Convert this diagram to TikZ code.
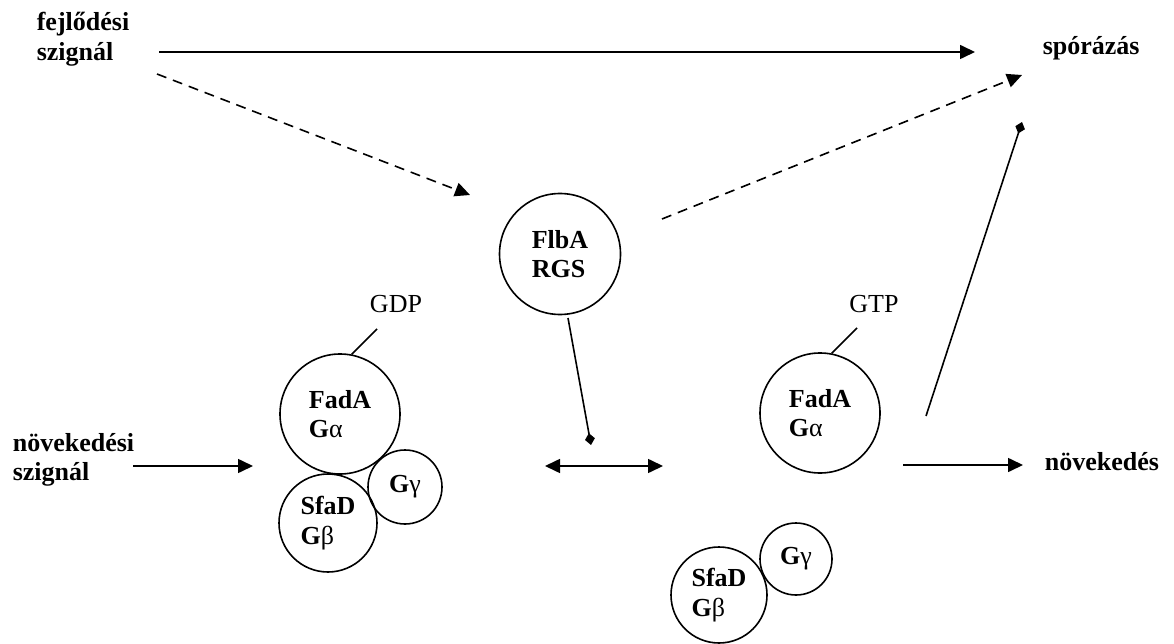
\documentclass[tikz,border=0pt]{standalone}
\usepackage{fontspec}
\setmainfont{Liberation Serif}
\usetikzlibrary{arrows.meta}
\newcommand{\gsubunit}[1]{\textbf{G}\textmd{#1}}

\begin{document}
\begin{tikzpicture}[
    x = 1pt,
    y = -1pt,
    line width = 1.6pt,
    >={Triangle[length=15pt,width=14pt]},
    font = \fontsize{26}{29.5}\selectfont,
    unit/.style = {
      draw,
      circle,
      inner sep = 0pt,
      font = \fontsize{26}{29.5}\selectfont\bfseries,
      align = left
    },
    signal/.style = {
      anchor = west,
      inner sep = 0pt,
      font = \fontsize{26}{29.5}\selectfont\bfseries,
      align = left
    },
    inhibit/.style = {-{Diamond[length=12pt,width=10pt]}},
    dash line/.style = {dash pattern = on 10pt off 7pt}
  ]
  \useasboundingbox (0,0) rectangle (1174,644);

  \node[signal] (fejl)  at (36,39)    {fejlődési\\szignál};
  \node[signal, anchor=base west] (spor) at (1042,55) {spórázás};
  \node[signal] (novsz) at (12,460)   {növekedési\\szignál};
  \node[signal, anchor=base west] (nov)  at (1044,470) {növekedés};

  \node[unit, minimum size=121pt] (flba)   at (560,254) {FlbA\\RGS};
  \node[unit, minimum size=120pt] (fadaL)  at (340,414) {FadA\\\gsubunit{α}};
  \node[unit, minimum size=98pt]  (sfadL)  at (328,523) {SfaD\\\gsubunit{β}};
  \node[unit, minimum size=74pt]  (gammaL) at (405,487) {\gsubunit{γ}};
  \node[unit, minimum size=120pt] (fadaR)  at (820,413) {FadA\\\gsubunit{α}};
  \node[unit, minimum size=96pt]  (sfadR)  at (719,595) {SfaD\\\gsubunit{β}};
  \node[unit, minimum size=72pt]  (gammaR) at (796,559) {\gsubunit{γ}};

  \node[anchor=base, inner sep=0pt] (gdp) at (396,312) {GDP};
  \node[anchor=base, inner sep=0pt] (gtp) at (874,312) {GTP};

  \draw (fadaL.79) -- ([shift={(-19,17)}]gdp.base);
  \draw (fadaR.79) -- ([shift={(-17,16)}]gtp.base);

  \draw[->] ([shift={(123,13)}]fejl.west) -- ([shift={(-67,-3)}]spor.base west);
  \draw[->, dash line] ([shift={(121,35)}]fejl.west) -- ([shift={(-90,-59)}]flba.center);
  \draw[->, dash line] ([shift={(102,-35)}]flba.center) -- ([shift={(-20,20)}]spor.base west);
  \draw[inhibit] ([shift={(8,64)}]flba.center) -- ([shift={(31,191)}]flba.center);
  \draw[<->] ([shift={(205,52)}]fadaL.center) -- ([shift={(-157,53)}]fadaR.center);
  \draw[->] ([shift={(121,6)}]novsz.west) -- ([shift={(-87,52)}]fadaL.center);
  \draw[->] ([shift={(83,52)}]fadaR.center) -- ([shift={(-21,-5)}]nov.base west);
  \draw[inhibit] ([shift={(106,3)}]fadaR.center) -- ([shift={(-20,67)}]spor.base west);
\end{tikzpicture}
\end{document}
